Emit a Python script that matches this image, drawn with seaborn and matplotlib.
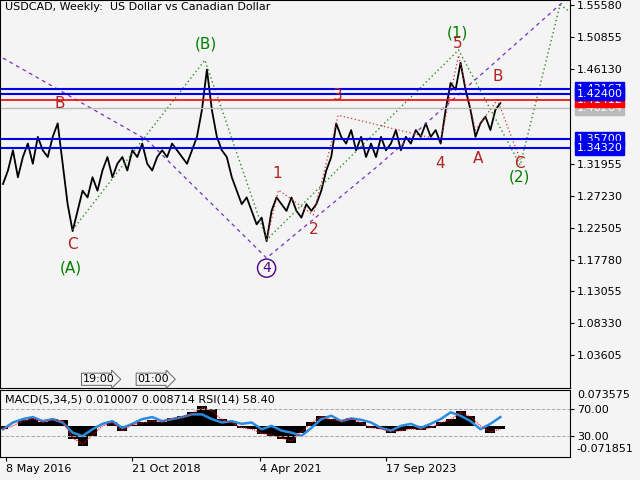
import matplotlib
matplotlib.use("Agg")
import matplotlib.pyplot as plt
import matplotlib.transforms as mtransforms
import numpy as np
import pandas as pd
import seaborn as sns

# weekly closes, one value every 5 weeks (week index from 8 May 2016)
price_week = list(range(0, 505, 5))
price_close = [
    1.29, 1.31, 1.34, 1.30, 1.33, 1.35, 1.32, 1.36, 1.34, 1.33,
    1.36, 1.38, 1.32, 1.26, 1.22, 1.25, 1.28, 1.27, 1.30, 1.28,
    1.31, 1.33, 1.30, 1.32, 1.33, 1.31, 1.34, 1.33, 1.35, 1.32,
    1.31, 1.33, 1.34, 1.33, 1.35, 1.34, 1.33, 1.32, 1.34, 1.36,
    1.40, 1.46, 1.40, 1.36, 1.34, 1.33, 1.30, 1.28, 1.26, 1.27,
    1.25, 1.23, 1.24, 1.205, 1.25, 1.27, 1.26, 1.25, 1.27, 1.25,
    1.24, 1.26, 1.25, 1.26, 1.28, 1.31, 1.33, 1.38, 1.36, 1.35,
    1.37, 1.34, 1.36, 1.33, 1.35, 1.33, 1.36, 1.34, 1.35, 1.37,
    1.34, 1.36, 1.35, 1.37, 1.36, 1.38, 1.36, 1.37, 1.35, 1.40,
    1.44, 1.43, 1.47, 1.43, 1.40, 1.36, 1.38, 1.39, 1.37, 1.40,
    1.41,
]

# indicator panel, one value every 10 weeks
ind_week = list(range(0, 510, 10))
macd_hist = [-5, 0, 8, 12, 6, 10, 8, -20, -30, -15, 0, 5, -8, 2, 5, 8, 6, 12, 15, 20,
             30, 25, 10, 5, -3, -5, -12, -15, -20, -25, -10, 5, 15, 10, 8, 12, 5, -3,
             -5, -10, -8, -5, -6, -3, 5, 10, 22, 15, 0, -10, -5]
rsi_vals = [40, 50, 55, 58, 52, 55, 50, 35, 30, 40, 48, 52, 42, 48, 55, 58, 52, 55, 58,
            62, 62, 55, 50, 52, 48, 50, 40, 45, 38, 35, 30, 42, 55, 60, 52, 56, 54, 50,
            42, 38, 45, 48, 42, 48, 55, 65, 60, 52, 40, 48, 58]

price_ticks = [1.55580, 1.50855, 1.46130, 1.31955, 1.27230, 1.22505,
               1.17780, 1.13055, 1.08330, 1.03605]
levels_blue = [1.43167, 1.42400, 1.35700, 1.34320]
level_red = 1.41412
level_grey = 1.40264
date_pos = [3, 130, 258, 385]
date_labels = ["8 May 2016", "21 Oct 2018", "4 Apr 2021", "17 Sep 2023"]

# wave labels: (week, price, text, colour)
wave_labels = [
    (68, 1.165, "(A)", "green"), (204, 1.498, "(B)", "green"),
    (457, 1.514, "(1)", "green"), (519, 1.300, "(2)", "green"),
    (57, 1.410, "B", "#b22222"), (70, 1.200, "C", "#b22222"),
    (276, 1.306, "1", "#b22222"), (312, 1.222, "2", "#b22222"),
    (336, 1.422, "3", "#b22222"), (439, 1.321, "4", "#b22222"),
    (457, 1.498, "5", "#b22222"), (478, 1.328, "A", "#b22222"),
    (497, 1.450, "B", "#b22222"), (519, 1.320, "C", "#b22222"),
]
purple_x = [0, 145, 265, 378, 565]
purple_y = [1.477, 1.355, 1.180, 1.318, 1.563]
green_x = [70, 203, 265, 458, 520, 560, 640]
green_y = [1.222, 1.474, 1.207, 1.489, 1.318, 1.556, 1.474]
red_x = [265, 277, 312, 337, 440, 458, 475, 497, 520]
red_y = [1.207, 1.281, 1.244, 1.392, 1.355, 1.481, 1.370, 1.415, 1.326]

BG = "#f4f4f4"
fig = plt.figure(figsize=(6.4, 4.8), dpi=100, facecolor=BG)
ax = fig.add_axes([0.0, 0.1917, 0.8906, 0.8083], facecolor=BG)
axi = fig.add_axes([0.0, 0.0479, 0.8906, 0.1396], facecolor=BG)

df = pd.DataFrame({"week": price_week, "close": price_close})
sns.lineplot(data=df, x="week", y="close", ax=ax, color="black", lw=1.3)
ax.plot(purple_x, purple_y, ls=(0, (3, 3)), color="#7b2fbf", lw=0.9)
ax.plot(green_x, green_y, ls=(0, (1, 2)), color="#2e8b22", lw=1.0)
ax.plot(red_x, red_y, ls=(0, (1, 2)), color="#cc3333", lw=0.9)

for lv in levels_blue:
    ax.axhline(lv, color="#0000ee", lw=1.5)
ax.axhline(level_red, color="red", lw=1.2)
ax.axhline(level_grey, color="#bbbbbb", lw=1.0)

for x, y, t, c in wave_labels:
    ax.text(x, y, t, color=c, fontsize=11, ha="center", va="center")
ax.text(265, 1.165, "4", color="#4b0082", fontsize=10, ha="center", va="center",
        bbox=dict(boxstyle="circle,pad=0.15", fc="none", ec="#4b0082", lw=1.0))

ax.set_xlim(-3, 570)
ax.set_ylim(0.987, 1.5632)
ax.yaxis.tick_right()
ax.set_yticks(price_ticks)
ax.set_yticklabels([f"{v:.5f}" for v in price_ticks], fontsize=8)
ax.set_xticks([])
ax.set_xlabel(""); ax.set_ylabel("")
ax.tick_params(axis="y", length=3, pad=2)

trans = mtransforms.blended_transform_factory(ax.transAxes, ax.transData)
for lv, fc in [(level_grey, "#bbbbbb"), (1.43167, "#0000ee"), (level_red, "red"),
               (1.42400, "#0000ee"), (1.35700, "#0000ee"), (1.34320, "#0000ee")]:
    ax.text(1.012, lv, f"{lv:.5f}", transform=trans, fontsize=8, color="white",
            va="center", ha="left", clip_on=False,
            bbox=dict(boxstyle="square,pad=0.15", fc=fc, ec=fc))

ax.text(0.008, 0.995, "USDCAD, Weekly:  US Dollar vs Canadian Dollar", transform=ax.transAxes,
        fontsize=8, va="top", ha="left")
for x, t in [(80, "19:00"), (135, "01:00")]:
    ax.text(x, 1.0, t, fontsize=8, va="center", ha="left",
            bbox=dict(boxstyle="rarrow,pad=0.1", fc=BG, ec="#666666", lw=0.7))

# indicator panel: RSI units, MACD histogram around baseline 45
base = 45
axi.bar(ind_week, macd_hist, width=10, bottom=base, color="black")
idf = pd.DataFrame({"week": ind_week, "rsi": rsi_vals})
sns.lineplot(data=idf, x="week", y="rsi", ax=axi, color="#2a8be0", lw=1.8)
sns.lineplot(x=ind_week, y=[base + h * 0.9 for h in macd_hist], ax=axi,
             color="red", lw=0.8, ls=(0, (1, 1)))
axi.axhline(70, color="#aaaaaa", ls="--", lw=0.7)
axi.axhline(30, color="#aaaaaa", ls="--", lw=0.7)
axi.set_xlim(-3, 570)
axi.set_ylim(-1, 98)
axi.yaxis.tick_right()
axi.set_yticks([70, 30])
axi.set_yticklabels(["70.00", "30.00"], fontsize=8)
axi.text(1.012, 0.93, "0.073575", transform=axi.transAxes, fontsize=8, va="center")
axi.text(1.012, 0.12, "-0.071851", transform=axi.transAxes, fontsize=8, va="center")
axi.text(0.008, 0.93, "MACD(5,34,5) 0.010007 0.008714 RSI(14) 58.40",
         transform=axi.transAxes, fontsize=8, va="top")
axi.set_xticks(date_pos)
axi.set_xticklabels(date_labels, fontsize=8, ha="left")
axi.set_xlabel(""); axi.set_ylabel("")
axi.tick_params(length=3, pad=2)

for a in (ax, axi):
    for s in a.spines.values():
        s.set_linewidth(0.8)

fig.savefig("out.png", dpi=100, facecolor=BG)
